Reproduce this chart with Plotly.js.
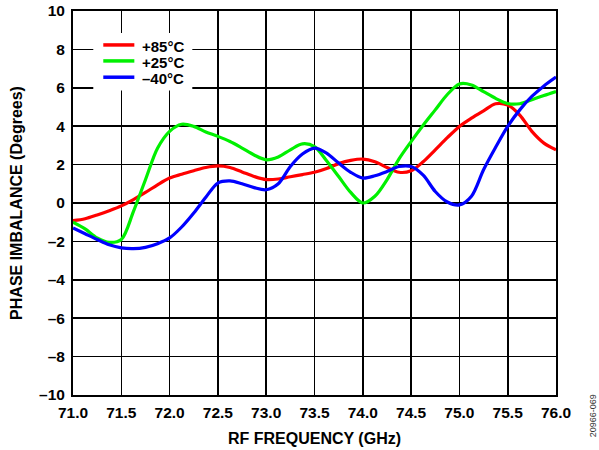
<!DOCTYPE html>
<html>
<head>
<meta charset="utf-8">
<script src="https://cdn.plot.ly/plotly-3.0.1.min.js"></script>
<style>html,body{margin:0;padding:0;background:#fff;}#chart{width:599px;height:450px;}</style>
</head>
<body>
<div id="chart"></div>
<script>
const freq = [71.0, 71.125, 71.25, 71.375, 71.5, 71.625, 71.75, 71.875, 72.0, 72.125, 72.25, 72.375, 72.5, 72.625, 72.75, 72.875, 73.0, 73.125, 73.25, 73.375, 73.5, 73.625, 73.75, 73.875, 74.0, 74.125, 74.25, 74.375, 74.5, 74.625, 74.75, 74.875, 75.0, 75.125, 75.25, 75.375, 75.5, 75.625, 75.75, 75.875, 76.0];

const phaseRed = [-0.92, -0.82, -0.62, -0.4, -0.15, 0.18, 0.55, 0.95, 1.3, 1.5, 1.68, 1.85, 1.93, 1.85, 1.62, 1.38, 1.22, 1.25, 1.37, 1.48, 1.6, 1.8, 2.05, 2.22, 2.29, 2.15, 1.85, 1.6, 1.68, 2.15, 2.77, 3.4, 3.99, 4.42, 4.8, 5.17, 5.1, 4.58, 3.73, 3.12, 2.77];

const phaseGreen = [-1.0, -1.35, -1.82, -2.05, -1.9, -0.45, 1.21, 2.85, 3.73, 4.1, 3.99, 3.7, 3.47, 3.2, 2.86, 2.5, 2.25, 2.4, 2.77, 3.08, 2.94, 2.2, 1.38, 0.55, 0.0, 0.35, 1.21, 2.3, 3.2, 4.05, 4.85, 5.65, 6.2, 6.15, 5.8, 5.45, 5.18, 5.17, 5.38, 5.6, 5.81];

const phaseBlue = [-1.3, -1.6, -1.9, -2.18, -2.34, -2.38, -2.31, -2.12, -1.82, -1.25, -0.52, 0.3, 1.04, 1.15, 1.0, 0.8, 0.69, 1.0, 1.9, 2.55, 2.86, 2.6, 2.08, 1.6, 1.3, 1.42, 1.64, 1.9, 1.9, 1.45, 0.6, 0.05, -0.1, 0.35, 1.73, 2.9, 3.99, 4.85, 5.55, 6.1, 6.56];

const seriesNames = ['+85°C', '+25°C', '\u201340°C'];
const seriesColors = ['#ff0000', '#00f000', '#0000ff'];

const xTickVals = [71.0, 71.5, 72.0, 72.5, 73.0, 73.5, 74.0, 74.5, 75.0, 75.5, 76.0];
const xTickText = ['71.0', '71.5', '72.0', '72.5', '73.0', '73.5', '74.0', '74.5', '75.0', '75.5', '76.0'];
const yTickVals = [-10, -8, -6, -4, -2, 0, 2, 4, 6, 8, 10];
const yTickText = ['\u201310', '\u20138', '\u20136', '\u20134', '\u20132', '0', '2', '4', '6', '8', '10'];

const ys = [phaseRed, phaseGreen, phaseBlue];

const traces = ys.map((y, i) => ({
  x: freq, y: y, name: seriesNames[i], type: 'scatter', mode: 'lines',
  line: {color: seriesColors[i], width: 3.2, shape: 'spline', smoothing: 0.9},
  showlegend: false
}));

const fontFam = 'Liberation Sans, Arial, sans-serif';
const tickFont = {family: fontFam, size: 15.5, color: '#000', weight: 'bold'};
const titleFont = {family: fontFam, size: 16, color: '#000', weight: 'bold'};
const legendFont = {family: fontFam, size: 15, color: '#000', weight: 'bold'};

// Compact legend (row spacing as in the reference): white box, line samples, labels
const legendRowY = [0.9116, 0.870, 0.8276];
const shapes = [{
  type: 'rect', xref: 'paper', yref: 'paper', x0: 0.042, x1: 0.247, y0: 0.793, y1: 0.943,
  fillcolor: '#fff', line: {width: 0}, layer: 'above'
}];
const annotations = [];
seriesNames.forEach((name, i) => {
  shapes.push({type: 'line', xref: 'paper', yref: 'paper', x0: 0.0627, x1: 0.127,
    y0: legendRowY[i], y1: legendRowY[i], line: {color: seriesColors[i], width: 3.5}, layer: 'above'});
  annotations.push({text: name, xref: 'paper', yref: 'paper', x: 0.139, y: legendRowY[i] - 0.004,
    xanchor: 'left', yanchor: 'middle', showarrow: false, font: legendFont});
});
annotations.push({
  text: '20966-069', xref: 'paper', yref: 'paper', x: 1.077, y: -0.116,
  xanchor: 'center', yanchor: 'bottom', textangle: -90, showarrow: false,
  font: {family: fontFam, size: 9, color: '#333'}
});

const layout = {
  width: 599, height: 450,
  margin: {l: 73, r: 43, t: 11, b: 55},
  paper_bgcolor: '#fff', plot_bgcolor: '#fff',
  showlegend: false,
  xaxis: {
    range: [71, 76], tickvals: xTickVals, ticktext: xTickText,
    showgrid: true, gridcolor: '#000', gridwidth: 1.6,
    showline: true, linecolor: '#000', linewidth: 2, mirror: true,
    ticks: '', zeroline: false, automargin: false, ticklabelstandoff: 2,
    tickfont: tickFont,
    title: {text: 'RF FREQUENCY (GHz)', font: titleFont, standoff: 13}
  },
  yaxis: {
    range: [-10, 10], tickvals: yTickVals, ticktext: yTickText,
    showgrid: true, gridcolor: '#000', gridwidth: 1.6,
    showline: true, linecolor: '#000', linewidth: 2, mirror: true,
    ticks: '', zeroline: false, automargin: false, ticklabelstandoff: 3,
    tickfont: tickFont,
    title: {text: 'PHASE IMBALANCE (Degrees)', font: titleFont, standoff: 12}
  },
  shapes: shapes,
  annotations: annotations
};

Plotly.newPlot('chart', traces, layout, {displayModeBar: false, staticPlot: true});
</script>
</body>
</html>
